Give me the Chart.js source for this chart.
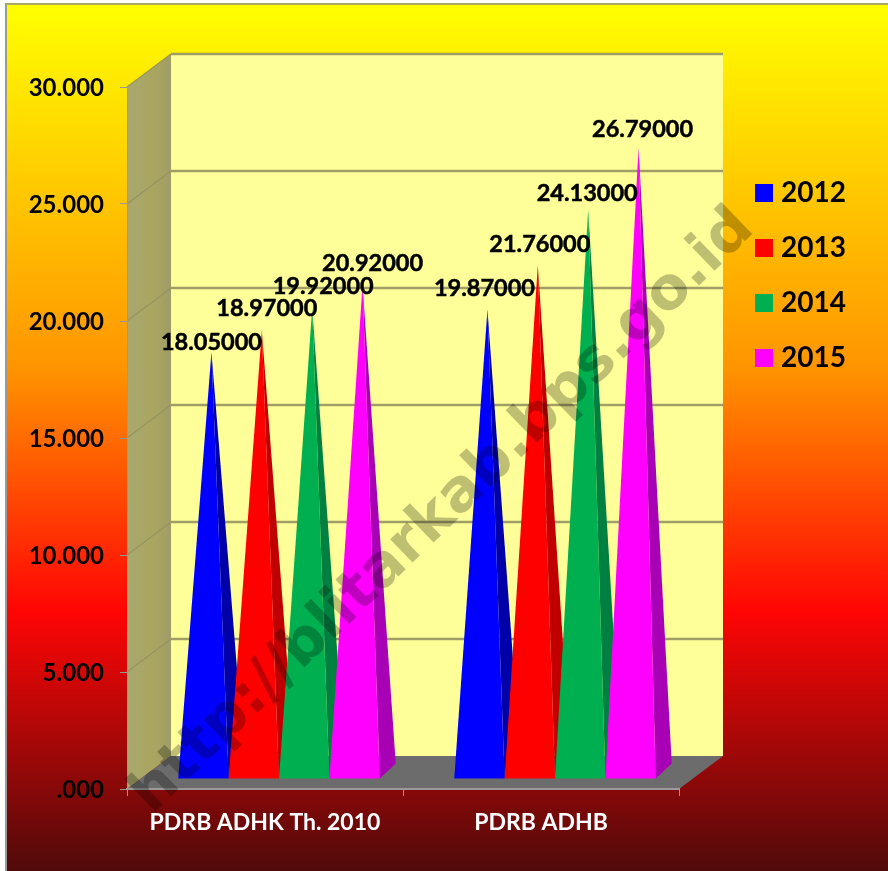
<!DOCTYPE html>
<html><head><meta charset="utf-8">
<style>html,body{margin:0;padding:0;background:#fff}canvas{display:block}</style>
<script src="https://cdn.jsdelivr.net/npm/chart.js@4"></script>
</head><body>
<canvas id="c" width="888" height="871"></canvas>
<script>
const categories = ['PDRB ADHK Th. 2010', 'PDRB ADHB'];
const years = ['2012', '2013', '2014', '2015'];
const values2012 = [18.05, 19.87];
const values2013 = [18.97, 21.76];
const values2014 = [19.92, 24.13];
const values2015 = [20.92, 26.79];
const seriesValues = [values2012, values2013, values2014, values2015];
const faceColors = ['#0000ff', '#ff0000', '#00b050', '#ff00ff'];
const sideColors = ['#0000a8', '#c00000', '#008040', '#a800b4'];
const labelNudgeX = [[0, -3], [5, 2], [11, -1], [10, 4]];
const labelNudgeY = [[9, -2], [-3, -2], [-3, 3], [-3, 1]];
const watermarkText = 'http://blitarkab.bps.go.id';
const FONT = 'Lato, Carlito, sans-serif';
const WALL = {dx: 44, dy: -33};
const BAR = {sx: 14, sy: -10, dx: 16, dy: -15, apex: -14.5};

// Bars are drawn as 3D pyramids, from the geometry the bar scale gives them.
Chart.BarElement.prototype.draw = function (ctx) {
  const {x, y, base, width} = this.getProps(['x', 'y', 'base', 'width']);
  const l = x - width / 2 + BAR.sx, r = x + width / 2 + BAR.sx, b = base + BAR.sy;
  const ax = x + BAR.sx + BAR.dx / 2, ay = y + BAR.apex;
  ctx.save();
  ctx.fillStyle = this.options.borderColor;
  ctx.beginPath(); ctx.moveTo(r, b); ctx.lineTo(r + BAR.dx, b + BAR.dy); ctx.lineTo(ax, ay); ctx.closePath(); ctx.fill();
  ctx.fillStyle = this.options.backgroundColor;
  ctx.beginPath(); ctx.moveTo(l, b); ctx.lineTo(r, b); ctx.lineTo(ax, ay); ctx.closePath(); ctx.fill();
  ctx.restore();
};

const backdrop = {
  id: 'backdrop',
  afterLayout(chart) {
    const lg = chart.legend;
    lg.top = 152; lg.bottom = lg.top + lg.height;
    lg.left = 734; lg.right = lg.left + lg.width;
  },
  beforeDraw(chart) {
    const ctx = chart.ctx, a = chart.chartArea, ys = chart.scales.y;
    ctx.save();
    ctx.fillStyle = '#fff'; ctx.fillRect(0, 0, 888, 871);
    const g = ctx.createLinearGradient(0, 5, 0, 871);
    g.addColorStop(0, '#ffff00');
    g.addColorStop(0.42, '#ff9400');
    g.addColorStop(0.70, '#ff0505');
    g.addColorStop(1, '#500a0a');
    ctx.fillStyle = g; ctx.fillRect(7, 5, 881, 866);
    ctx.fillStyle = '#9a9a9a'; ctx.fillRect(5, 5, 2, 866);
    ctx.fillStyle = '#a8a860'; ctx.fillRect(5, 3, 883, 2);
    const L = a.left, R = a.right, T = a.top, B = a.bottom, dx = WALL.dx, dy = WALL.dy;
    // back wall
    ctx.fillStyle = '#ffff99'; ctx.fillRect(L + dx, T + dy, R - L, B - T);
    // side wall
    const w = ctx.createLinearGradient(L, 0, L + dx, 0);
    w.addColorStop(0, '#a8a870'); w.addColorStop(0.6, '#aaa660'); w.addColorStop(1, '#a09c68');
    ctx.fillStyle = w;
    ctx.beginPath(); ctx.moveTo(L, T); ctx.lineTo(L + dx, T + dy); ctx.lineTo(L + dx, B + dy); ctx.lineTo(L, B); ctx.closePath(); ctx.fill();
    // floor
    ctx.fillStyle = '#6c6c6c';
    ctx.beginPath(); ctx.moveTo(L, B); ctx.lineTo(L + dx, B + dy); ctx.lineTo(R + dx, B + dy); ctx.lineTo(R, B); ctx.closePath(); ctx.fill();
    // grid on the walls
    ys.ticks.forEach((t, i) => {
      const y = ys.getPixelForTick(i);
      if (t.value === 0) return;
      ctx.strokeStyle = '#96945e'; ctx.lineWidth = 1.2;
      ctx.beginPath(); ctx.moveTo(L, y); ctx.lineTo(L + dx, y + dy); ctx.stroke();
      ctx.strokeStyle = '#a09e66'; ctx.lineWidth = 2.5;
      ctx.beginPath(); ctx.moveTo(L + dx, y + dy); ctx.lineTo(R + dx, y + dy); ctx.stroke();
    });
    ctx.restore();
  },
  beforeDatasetsDraw(chart) {
    // later series sit in front of earlier ones
    const ctx = chart.ctx;
    chart.data.datasets.forEach((ds, i) => chart.getDatasetMeta(i).controller.draw());
    ctx.save();
    ctx.font = 'bold 23.5px ' + FONT; ctx.fillStyle = '#000'; ctx.strokeStyle = '#000'; ctx.lineWidth = 0.5;
    ctx.textAlign = 'center'; ctx.textBaseline = 'middle';
    chart.data.datasets.forEach((ds, i) => {
      chart.getDatasetMeta(i).data.forEach((el, j) => {
        const ax = el.x + BAR.sx + BAR.dx / 2, ay = el.y + BAR.apex;
        const tx = ax + labelNudgeX[i][j], ty = ay - 19 + labelNudgeY[i][j], s = ds.data[j].toFixed(5);
        ctx.fillText(s, tx, ty);
        ctx.strokeText(s, tx, ty);
      });
    });
    ctx.restore();
    return false;
  },
  afterDraw(chart) {
    const ctx = chart.ctx;
    ctx.save();
    ctx.translate(141, 804);
    ctx.rotate(-Math.atan2(590, 610));
    ctx.font = 'bold 59px "DejaVu Sans", sans-serif';
    ctx.fillStyle = 'rgba(0,0,0,0.25)';
    ctx.textAlign = 'left'; ctx.textBaseline = 'middle';
    ctx.fillText(watermarkText, 0, 0);
    ctx.restore();
  }
};

const legendFont = {size: 28, weight: 'bold', family: FONT};
const mctx = document.createElement('canvas').getContext('2d');
mctx.font = 'bold 28px ' + FONT;
const legendW = 28 + 6 + 14 + mctx.measureText(years[0]).width + 28;

new Chart(document.getElementById('c'), {
  type: 'bar',
  data: {
    labels: categories,
    datasets: years.map((yr, i) => ({
      label: yr,
      data: seriesValues[i],
      backgroundColor: faceColors[i],
      borderColor: sideColors[i],
      borderWidth: 0,
      clip: false,
      categoryPercentage: 0.73,
      barPercentage: 1
    }))
  },
  options: {
    responsive: false,
    animation: false,
    layout: {padding: {top: 87, right: 209 - legendW + 19, left: 0, bottom: 0}},
    plugins: {
      tooltip: {enabled: false},
      title: {display: false},
      legend: {
        position: 'right', align: 'start',
        labels: {
          boxWidth: 6, boxHeight: 6, padding: 27, font: legendFont, color: '#000',
          generateLabels(chart) {
            return Chart.defaults.plugins.legend.labels.generateLabels(chart).map(it => {
              it.lineWidth = 12; it.strokeStyle = it.fillStyle; return it;
            });
          }
        }
      }
    },
    scales: {
      x: {
        afterFit(s) { s.height = 82; },
        grid: {drawOnChartArea: false, drawTicks: true, tickLength: 7, tickColor: '#969696'},
        border: {color: '#9a9a9a', width: 2},
        ticks: {color: '#ffffff', padding: 13, maxRotation: 0, font: {size: 23, weight: 'bold', family: FONT}}
      },
      y: {
        min: 0, max: 30,
        afterFit(s) { s.width = 127; },
        grid: {drawOnChartArea: false, drawTicks: true, tickLength: 7, tickColor: '#969696'},
        border: {color: '#9a9a9a', width: 1},
        ticks: {
          stepSize: 5, color: '#000', padding: 16, labelOffset: 1,
          font: {size: 24, weight: 'bold', family: FONT},
          callback: v => v === 0 ? '.000' : v.toFixed(3)
        }
      }
    }
  },
  plugins: [backdrop]
});
</script>
</body></html>
